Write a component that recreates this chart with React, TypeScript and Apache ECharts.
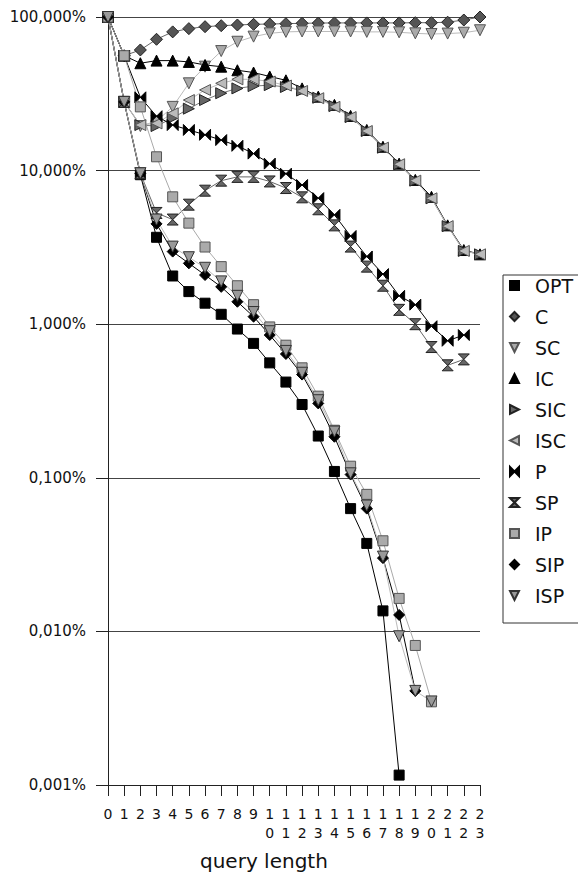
import React, { useEffect, useRef } from "react";
import * as echarts from "echarts";

const categories = Array.from({ length: 24 }, (_, i) => String(i));
const yTicks = [0.001, 0.01, 0.1, 1, 10, 100];

const OPT = [100, 28, 9.4, 3.68, 2.06, 1.63, 1.37, 1.16, 0.93, 0.75, 0.56, 0.42, 0.3, 0.187, 0.11, 0.063, 0.0374, 0.0136, 0.00116, null, null, null, null, null];
const C = [100, 56, 61, 71.6, 80, 84, 86.5, 87.8, 88.7, 89.6, 90, 90.5, 91, 91.3, 91.5, 91.5, 91.5, 91.5, 91.5, 91.8, 91.8, 92.5, 95.6, 100];
const SC = [100, 28, 19.5, 21, 26, 37, 47.5, 60, 69, 74.5, 78.3, 80, 80.5, 80.5, 80.5, 80.5, 80, 80, 79.5, 78.3, 77.5, 78, 79, 82];
const IC = [100, 56, 50, 52, 52, 51, 48.7, 47.5, 45, 43.5, 41, 38.7, 34.3, 30.3, 26.8, 22.7, 18.4, 14.3, 11.1, 8.7, 6.75, 4.4, 3.04, 2.85];
const SIC = [100, 28, 19.8, 19.5, 22, 25.3, 28.8, 31.9, 34.3, 35.5, 36, 35, 33.2, 29.8, 26.3, 22.3, 18.1, 14.1, 11, 8.6, 6.6, 4.35, 3.0, 2.85];
const ISC = [100, 28, 19.8, 20.3, 23.6, 28.8, 33.5, 37, 39.3, 39.3, 38, 35.8, 33, 29.6, 26, 22.3, 18.1, 14.1, 11, 8.6, 6.6, 4.35, 3.0, 2.85];
const P = [100, 56, 30, 22.6, 19.8, 18.4, 17.1, 15.8, 14.5, 12.9, 11.1, 9.55, 8.06, 6.62, 5.15, 3.75, 2.76, 2.12, 1.53, 1.34, 0.97, 0.78, 0.85, null];
const SP = [100, 28, 9.6, 5.3, 4.8, 6.0, 7.4, 8.6, 9.1, 9.1, 8.5, 7.7, 6.7, 5.6, 4.4, 3.2, 2.37, 1.78, 1.24, 1.0, 0.71, 0.54, 0.59, null];
const IP = [100, 56, 26, 12.3, 6.75, 4.55, 3.18, 2.37, 1.78, 1.34, 0.96, 0.73, 0.52, 0.34, 0.204, 0.119, 0.078, 0.0389, 0.0164, 0.0081, 0.00348, null, null, null];
const SIP = [100, 28, 9.6, 4.5, 2.97, 2.49, 2.09, 1.75, 1.4, 1.12, 0.85, 0.64, 0.47, 0.305, 0.185, 0.105, 0.063, 0.03, 0.0128, 0.0041, null, null, null, null];
const ISP = [100, 28, 9.6, 4.8, 3.2, 2.73, 2.33, 1.9, 1.53, 1.2, 0.9, 0.67, 0.483, 0.32, 0.2, 0.107, 0.066, 0.0307, 0.0093, 0.0041, 0.0035, null, null, null];

const DOWN = "path://M0,0L10,0L5,10Z";
const RIGHT = "path://M0,0L10,5L0,10Z";
const LEFT = "path://M10,0L0,5L10,10Z";
const BOWTIE = "path://M0,0L5,5L0,10ZM10,0L5,5L10,10Z";
const HOURGLASS = "path://M0,0L10,0L5,5ZM0,10L10,10L5,5Z";

const seriesDefs = [
  { name: "OPT", data: OPT, symbol: "rect", size: 10, fill: "#000", border: "#000", line: "#000" },
  { name: "C", data: C, symbol: "diamond", size: 12, fill: "#555", border: "#222", line: "#666" },
  { name: "SC", data: SC, symbol: DOWN, size: 11, fill: "#aaa", border: "#555", line: "#bbb" },
  { name: "IC", data: IC, symbol: "triangle", size: 11, fill: "#000", border: "#000", line: "#000" },
  { name: "SIC", data: SIC, symbol: RIGHT, size: 11, fill: "#666", border: "#222", line: "#777" },
  { name: "ISC", data: ISC, symbol: LEFT, size: 11, fill: "#bbb", border: "#555", line: "#bbb" },
  { name: "P", data: P, symbol: BOWTIE, size: 11, fill: "#000", border: "#000", line: "#000" },
  { name: "SP", data: SP, symbol: HOURGLASS, size: 11, fill: "#666", border: "#222", line: "#666" },
  { name: "IP", data: IP, symbol: "rect", size: 10, fill: "#aaa", border: "#555", line: "#aaa" },
  { name: "SIP", data: SIP, symbol: "diamond", size: 11, fill: "#000", border: "#000", line: "#000" },
  { name: "ISP", data: ISP, symbol: DOWN, size: 11, fill: "#999", border: "#333", line: "#bbb" },
];

const FONT = "DejaVu Sans";

export default function App() {
  const ref = useRef<HTMLDivElement>(null);
  useEffect(() => {
    if (!ref.current) return;
    const chart = echarts.init(ref.current, null, { renderer: "svg" });
    chart.setOption({
      animation: false,
      backgroundColor: "#fff",
      textStyle: { fontFamily: FONT },
      grid: { left: 108, top: 17, width: 372, height: 768 },
      legend: {
        orient: "vertical",
        left: 503,
        top: 275,
        padding: [1, 14, 18, 6],
        borderColor: "#333",
        borderWidth: 1,
        itemWidth: 9,
        itemHeight: 9,
        itemGap: 12,
        textStyle: { fontSize: 19, color: "#111", fontFamily: FONT, padding: [0, 0, 0, 11] },
        data: seriesDefs.map((s) => ({ name: s.name, icon: s.symbol })),
      },
      xAxis: {
        type: "category",
        data: categories,
        boundaryGap: false,
        axisLine: { lineStyle: { color: "#222", width: 1 } },
        axisTick: { show: true, length: 11, interval: 0, lineStyle: { color: "#222" } },
        axisLabel: {
          interval: 0,
          fontSize: 14,
          lineHeight: 19,
          margin: 19,
          color: "#111",
          fontFamily: FONT,
          formatter: (v: string) => (v.length === 2 ? v[0] + "\n" + v[1] : v),
        },
        splitLine: { show: false },
      },
      yAxis: {
        type: "log",
        logBase: 10,
        min: yTicks[0],
        max: yTicks[yTicks.length - 1],
        axisLine: { show: true, lineStyle: { color: "#222", width: 1 } },
        axisTick: { show: true, length: 12, lineStyle: { color: "#222" } },
        axisLabel: {
          fontSize: 15,
          margin: 22,
          color: "#111",
          fontFamily: FONT,
          formatter: (v: number) => v.toFixed(3).replace(".", ",") + "%",
        },
        splitLine: { show: true, lineStyle: { color: "#444", width: 1 } },
      },
      graphic: [
        {
          type: "text",
          left: 200,
          top: 851,
          style: { text: "query length", fontSize: 20, fontFamily: FONT, fill: "#111" },
        },
      ],
      series: seriesDefs.map((s) => ({
        name: s.name,
        type: "line",
        data: s.data,
        symbol: s.symbol,
        symbolSize: s.size,
        clip: false,
        connectNulls: false,
        lineStyle: { color: s.line, width: 1 },
        itemStyle: { color: s.fill, borderColor: s.border, borderWidth: 1 },
        emphasis: { disabled: true },
      })),
    });
    return () => chart.dispose();
  }, []);
  return <div ref={ref} style={{ position: "fixed", left: 0, top: 0, width: 578, height: 879 }} />;
}
